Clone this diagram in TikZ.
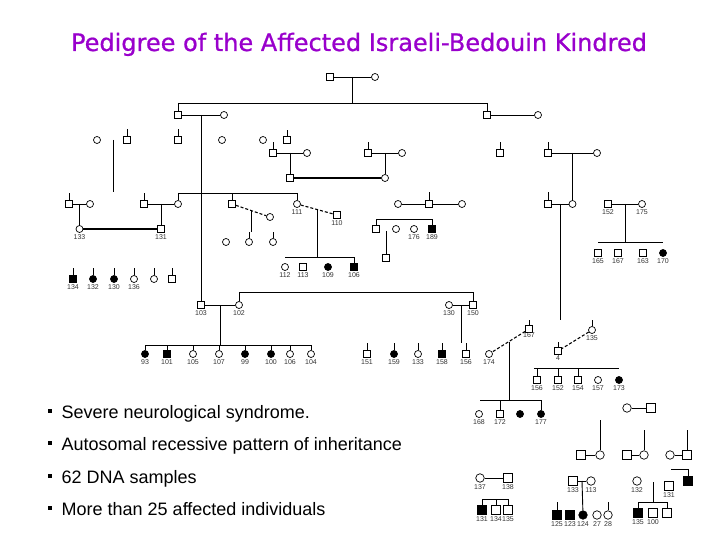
\documentclass[tikz,border=0pt]{standalone}
\usepackage{fontspec}
\setmainfont{Liberation Sans}
\newfontfamily\titlefont[FakeBold=0.8]{DejaVu Sans}
\usetikzlibrary{positioning, calc}

\definecolor{titlepurple}{RGB}{153,0,204}
\newcommand{\idfont}{\fontsize{7}{8}\selectfont}
\newcommand{\bulletbox}{\rule[0.28em]{3.5pt}{3.5pt}\hspace{10pt}}

\tikzset{
  male/.style={draw, rectangle, minimum size=7pt, inner sep=0pt, line width=0.7pt, fill=white},
  female/.style={draw, circle, minimum size=7pt, inner sep=0pt, line width=0.7pt, fill=white},
  amale/.style={male, fill=black},
  afemale/.style={female, fill=black},
  big/.style={minimum size=8.5pt},
  kin/.style={line width=0.9pt},
  consang/.style={line width=2pt},
  partner/.style={line width=1.1pt, densely dashed},
  every label/.style={font=\idfont, text=black!80, inner sep=0.5pt},
  bullet/.style={anchor=base west, inner sep=0pt, font=\fontsize{18}{20}\selectfont}
}

\begin{document}
\begin{tikzpicture}[x=1pt, y=-1pt, label distance=1pt]
\useasboundingbox (0,0) rectangle (720,540);

% Title
\node[font=\titlefont\fontsize{24}{28}\selectfont, text=titlepurple, anchor=base] (title) at (359,51) {Pedigree of the Affected Israeli-Bedouin Kindred};

% Notes
\node[bullet] (note1) at (48,418) {\bulletbox Severe neurological syndrome.};
\node[bullet] (note2) at (48,450) {\bulletbox Autosomal recessive pattern of inheritance};
\node[bullet] (note3) at (48,483) {\bulletbox 62 DNA samples};
\node[bullet] (note4) at (48,515) {\bulletbox More than 25 affected individuals};

% Founders
\node[male] (i1) at (330,77) {};
\node[female] (i2) at (375,77) {};
\draw[kin] (i1) -- (i2);
\coordinate (i12) at ($(i1)!0.5!(i2)$);
\coordinate (sib1l) at (178,103);
\coordinate (sib1r) at (487,103);
\draw[kin] (sib1l) -- (sib1r);
\draw[kin] (i12) -- (i12 |- sib1l);

% Second generation
\node[male] (ii1) at (178,115) {};
\node[female] (ii2) at (224,115) {};
\node[male] (ii3) at (487,115) {};
\node[female] (ii4) at (538,115) {};
\draw[kin] (sib1l) -- (ii1);
\draw[kin] (sib1r) -- (ii3);
\draw[kin] (ii1) -- (ii2);
\draw[kin] (ii3) -- (ii4);
\coordinate (ii12) at ($(ii1)!0.5!(ii2)$);

% Row at 140
\node[female] (r1a) at (97,140) {};
\node[male] (r1b) at (127,140) {};
\node[male] (r1c) at (178,140) {};
\node[female] (r1d) at (222,140) {};
\node[female] (r1e) at (263,140) {};
\node[male] (r1f) at (287,140) {};
\draw[kin] (r1b) -- ++(0,-11);
\draw[kin] (r1c) -- ++(0,-11);
\draw[kin] (r1f) -- ++(0,-10);
\coordinate (lineA) at (113,140);
\coordinate (lineB) at (113,192);
\draw[kin] (lineA) -- (lineB);

% Row at 153
\node[male] (r2a) at (273,153) {};
\node[female] (r2b) at (307,153) {};
\node[male] (r2c) at (290,178) {};
\draw[kin] (r2a) -- ++(0,-11);
\draw[kin] (r2a) -- (r2b);
\draw[kin] ($(r2a)!0.5!(r2b)$) -- (r2c);
\node[male] (r2d) at (368,153) {};
\node[female] (r2e) at (402,153) {};
\node[female] (r2f) at (385,178) {};
\draw[kin] (r2d) -- ++(0,-11);
\draw[kin] (r2d) -- (r2e);
\draw[kin] ($(r2d)!0.5!(r2e)$) -- (r2f);
\draw[consang] (r2c) -- (r2f);
\node[male] (r2g) at (500,153) {};
\draw[kin] (r2g) -- ++(0,-11);
\node[male] (r2h) at (548,153) {};
\node[female] (r2i) at (597,153) {};
\draw[kin] (r2h) -- ++(0,-11);
\draw[kin] (r2h) -- (r2i);
\node[female] (r3n) at (572.5,204) {};
\draw[kin] ($(r2h)!0.5!(r2i)$) -- (r3n);

% Third generation, left
\coordinate (sib3l) at (178,193);
\coordinate (sib3r) at (297,193);
\draw[kin] (sib3l) -- (sib3r);
\node[male] (r3a) at (69,204) {};
\node[female] (r3b) at (90,204) {};
\node[female, label=below:133] (p133) at (79.5,229) {};
\draw[kin] (r3a) -- ++(0,-11);
\draw[kin] (r3a) -- (r3b);
\draw[kin] ($(r3a)!0.5!(r3b)$) -- (p133);
\node[male] (r3c) at (144,204) {};
\node[female] (r3d) at (178,204) {};
\node[male, label=below:131] (p131) at (161,229) {};
\draw[kin] (r3c) -- ++(0,-11);
\draw[kin] (sib3l) -- (r3d);
\draw[kin] (r3c) -- (r3d);
\draw[kin] ($(r3c)!0.5!(r3d)$) -- (p131);
\draw[consang] (p133) -- (p131);

% Children of 133 and 131
\node[amale, label=below:134] (p134) at (73,279) {};
\node[afemale, label=below:132] (p132) at (93,279) {};
\node[afemale, label=below:130] (p130a) at (114,279) {};
\node[female, label=below:136] (p136) at (134,279) {};
\node[female] (r4a) at (154,279) {};
\node[male] (r4b) at (172,279) {};
\draw[kin] (p134) -- ++(0,-11);
\draw[kin] (p132) -- ++(0,-11);
\draw[kin] (p130a) -- ++(0,-11);
\draw[kin] (p136) -- ++(0,-11);
\draw[kin] (r4a) -- ++(0,-11);
\draw[kin] (r4b) -- ++(0,-11);

% Third generation, middle
\node[male] (r3e) at (232,204) {};
\node[female] (r3f) at (270,217) {};
\draw[kin] (r3e) -- (r3e |- sib3l);
\draw[partner] (r3e) -- (r3f);
\coordinate (d3ef) at ($(r3e)!0.5!(r3f)$);
\draw[kin] (d3ef) -- ++(0,21.5);
\node[female] (r4c) at (226,242) {};
\node[female] (r4d) at (249,242) {};
\node[female] (r4e) at (273,242) {};
\draw[kin] (r4d) -- ++(0,-10);
\draw[kin] (r4e) -- ++(0,-10);

\node[female, label=below:111] (p111) at (297,204) {};
\node[male, label=below:110] (p110) at (337,215) {};
\draw[kin] (sib3r) -- (p111);
\draw[partner] (p111) -- (p110);
\coordinate (d111) at ($(p111)!0.5!(p110)$);
\coordinate (sib4l) at (285,257);
\coordinate (sib4r) at (354,257);
\draw[kin] (d111) -- (d111 |- sib4l);
\draw[kin] (sib4l) -- (sib4r);
\node[female, label=below:112] (p112) at (285,267) {};
\node[male, label=below:113] (p113a) at (303,267) {};
\node[afemale, label=below:109] (p109) at (328,267) {};
\node[amale, label=below:106] (p106a) at (354,267) {};
\draw[kin] (sib4r) -- (p106a);

% Third generation, right
\node[female] (r3g) at (398,204) {};
\node[male] (r3h) at (429,204) {};
\node[female] (r3i) at (462,204) {};
\draw[kin] (r3h) -- ++(0,-12);
\draw[kin] (r3g) -- (r3h);
\draw[kin] (r3h) -- (r3i);
\node[male] (r3j) at (376,229) {};
\node[female] (r3k) at (396,229) {};
\node[female, label=below:176] (p176) at (414,229) {};
\node[amale, label=below:189] (p189) at (432,229) {};
\draw[kin] (r3j.north) -- ++(0,-6) -| (p189.north);
\coordinate (d3l) at (386,231);
\node[male] (r3l) at (386,258) {};
\draw[kin] (d3l) -- (r3l);

\node[male] (r3m) at (548,204) {};
\draw[kin] (r3m) -- ++(0,-12);
\draw[kin] (r3m) -- (r3n);
\coordinate (d3mn) at ($(r3m)!0.5!(r3n)$);
\coordinate (d3end) at (560.25,320);
\draw[kin] (d3mn) -- (d3end);

\node[male, label=below:152] (p152) at (608,204) {};
\node[female, label=below:175] (p175) at (642,204) {};
\draw[kin] (p152) -- (p175);
\coordinate (d152) at ($(p152)!0.5!(p175)$);
\coordinate (sib5l) at (598,242);
\coordinate (sib5r) at (663,242);
\draw[kin] (d152) -- (d152 |- sib5l);
\draw[kin] (sib5l) -- (sib5r);
\node[male, label=below:165] (p165) at (598,253) {};
\node[male, label=below:167] (p167a) at (618,253) {};
\node[male, label=below:163] (p163) at (643,253) {};
\node[afemale, label=below:170] (p170) at (663,253) {};

% Fourth generation
\node[male, label=below:103] (p103) at (201,305) {};
\node[female, label=below:102] (p102) at (239,305) {};
\draw[kin] (ii12) -- (p103);
\draw[kin] (p103) -- (p102);
\node[female, label=below:130] (p130) at (449,305) {};
\node[male, label=below:150] (p150) at (473,305) {};
\draw[kin] (p130) -- (p150);
\draw[kin] (p102.north) -- ++(0,-8.5) -| (p150.north);

\coordinate (d103) at ($(p103)!0.5!(p102)$);
\coordinate (sib6l) at (145,345);
\coordinate (sib6r) at (311,345);
\draw[kin] (d103) -- (d103 |- sib6l);
\draw[kin] (sib6l) -- (sib6r);
\node[afemale, label=below:93] (p93) at (145,354) {};
\node[amale, label=below:101] (p101) at (167,354) {};
\node[female, label=below:105] (p105) at (193,354) {};
\node[female, label=below:107] (p107) at (219,354) {};
\node[afemale, label=below:99] (p99) at (245,354) {};
\node[afemale, label=below:100] (p100) at (271,354) {};
\node[female, label=below:106] (p106) at (290,354) {};
\node[female, label=below:104] (p104) at (311,354) {};
\draw[kin] (p93) -- ++(0,-9);
\draw[kin] (p101) -- ++(0,-9);
\draw[kin] (p105) -- ++(0,-9);
\draw[kin] (p107) -- ++(0,-9);
\draw[kin] (p99) -- ++(0,-9);
\draw[kin] (p100) -- ++(0,-9);
\draw[kin] (p106) -- ++(0,-9);
\draw[kin] (p104) -- ++(0,-9);

\coordinate (d130) at ($(p130)!0.5!(p150)$);
\draw[kin] (d130) -- ++(0,38);
\node[male, label=below:151] (p151) at (367,354) {};
\node[afemale, label=below:159] (p159) at (394,354) {};
\node[female, label=below:133] (p133b) at (418,354) {};
\node[amale, label=below:158] (p158) at (442,354) {};
\node[male, label=below:156] (p156) at (466,354) {};
\draw[kin] (p151) -- ++(0,-11);
\draw[kin] (p159) -- ++(0,-11);
\draw[kin] (p133b) -- ++(0,-11);
\draw[kin] (p158) -- ++(0,-11);
\draw[kin] (p156) -- ++(0,-11);

% 167 and 174
\node[male, label={[label distance=-0.5pt]below:167}] (p167) at (529,329) {};
\node[female, label=below:174] (p174) at (489,354) {};
\draw[kin] (p167) -- ++(0,-9);
\draw[partner] (p167) -- (p174);
\coordinate (d167) at ($(p167)!0.5!(p174)$);
\coordinate (sib7l) at (480,400);
\coordinate (sib7r) at (541,400);
\draw[kin] (d167) -- (d167 |- sib7l);
\draw[kin] (sib7l) -- (sib7r);
\node[female, label=below:168] (p168) at (479,414) {};
\node[male, label=below:172] (p172) at (500,414) {};
\node[afemale] (r9a) at (520,414) {};
\node[afemale, label=below:177] (p177) at (541,414) {};
\draw[kin] (p172) -- ++(0,-14);
\draw[kin] (p177) -- ++(0,-14);

% 4 and 135
\node[male, label={[label distance=0pt]below:4}] (p4) at (558,351) {};
\node[female, label=below:135] (p135) at (592,330) {};
\draw[kin] (p4) -- ++(0,-9);
\draw[kin] (p135) -- ++(0,-10);
\draw[partner] (p135) -- (p4);
\coordinate (sib8l) at (534,368);
\coordinate (sib8r) at (619,368);
\draw[kin] (sib8l) -- (sib8r);
\node[male, label=below:156] (p156b) at (537,380) {};
\node[male, label=below:152] (p152b) at (558,380) {};
\node[male, label=below:154] (p154) at (578,380) {};
\node[female, label=below:157] (p157) at (598,380) {};
\node[afemale, label=below:173] (p173) at (619,380) {};
\draw[kin] (p156b) -- ++(0,-12);
\draw[kin] (p152b) -- ++(0,-12);
\draw[kin] (p154) -- ++(0,-12);

% Bottom right families
\node[female, big] (r10a) at (627,408) {};
\node[male, big] (r10b) at (651,408) {};
\draw[kin] (r10a) -- (r10b);
\node[male, big] (r10c) at (581,455) {};
\node[female, big] (r10d) at (600,455) {};
\draw[kin] (r10d) -- ++(0,-35);
\draw[kin] (r10c) -- (r10d);
\node[male, big] (r10e) at (627,455) {};
\node[female, big] (r10f) at (644,455) {};
\draw[kin] (r10f) -- ++(0,-25);
\draw[kin] (r10e) -- (r10f);
\node[female, big] (r10g) at (670,455) {};
\node[male, big] (r10h) at (687,455) {};
\draw[kin] (r10h) -- ++(0,-25);
\draw[kin] (r10g) -- (r10h);

\node[male, big, label=below:133] (p133c) at (573,481) {};
\node[female, big, label=below:113] (p113) at (591,481) {};
\draw[kin] (p133c) -- (p113);
\node[amale, big, label=below:125] (p125) at (557,515) {};
\node[amale, big, label=below:123] (p123) at (570,515) {};
\node[afemale, big, label=below:124] (p124) at (583,515) {};
\node[female, big, label=below:27] (p27) at (597,515) {};
\node[female, big, label=below:28] (p28) at (608,515) {};
\draw[kin] ($(p133c)!0.5!(p113)$) -- (p124);
\draw[kin] (p125) -- ++(0,-13);
\draw[kin] (p28) -- ++(0,-13);

\node[female, big, label=below:132] (p132b) at (637,481) {};
\coordinate (d132) at (653,482);
\coordinate (sib9l) at (638,502);
\coordinate (sib9r) at (667,502);
\draw[kin] (d132) -- (d132 |- sib9l);
\draw[kin] (sib9l) -- (sib9r);
\node[amale, big, label=below:135] (p135b) at (638,513) {};
\node[male, big, label=below:100] (p100b) at (653,513) {};
\node[male, big] (r11a) at (667,513) {};
\draw[kin] (sib9l) -- (p135b);
\draw[kin] (sib9r) -- (r11a);

\node[male, big, label=below:131] (p131b) at (669,486) {};
\node[amale, big] (r11b) at (688,481) {};
\coordinate (c131) at (671,469);
\draw[kin] (c131) -| (r11b);

\node[female, big, label=below:137] (p137) at (480,478) {};
\node[male, big, label=below:138] (p138) at (508,478) {};
\draw[kin] (p137) -- (p138);
\coordinate (sib10l) at (482,499);
\coordinate (sib10r) at (508,499);
\draw[kin] (sib10l) -- (sib10r);
\node[amale, big, label=below:131] (p131c) at (482,510) {};
\node[male, big, label=below:134] (p134b) at (496,510) {};
\node[male, big, label=below:135] (p135c) at (508,510) {};
\draw[kin] (sib10l) -- (p131c);
\draw[kin] (p134b) -- ++(0,-11);
\draw[kin] (sib10r) -- (p135c);

\end{tikzpicture}
\end{document}
